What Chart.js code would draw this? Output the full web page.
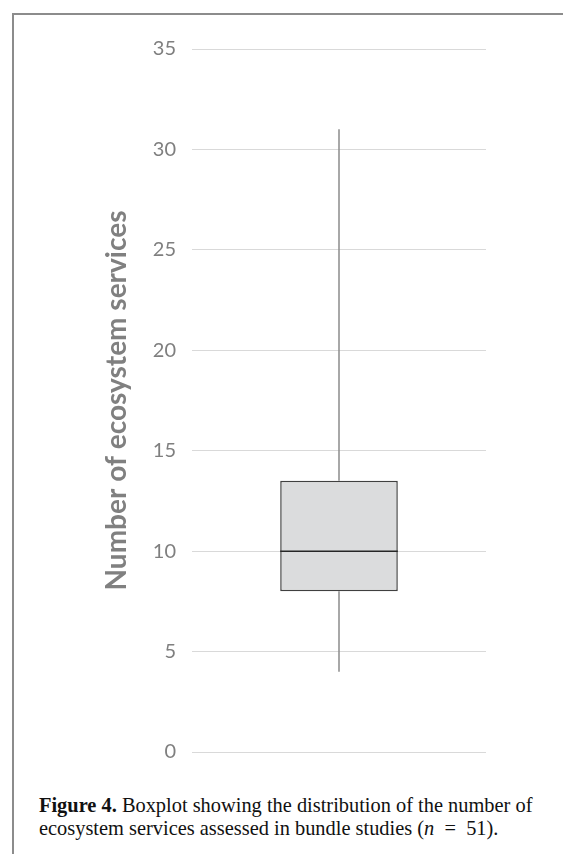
<!DOCTYPE html>
<html>
<head>
<meta charset="utf-8">
<script src="https://cdn.jsdelivr.net/npm/chart.js@4.4.1/dist/chart.umd.min.js"></script>
<style>
  html, body { margin: 0; padding: 0; background: #fff; }
  body { width: 563px; height: 854px; position: relative; overflow: hidden; }
  #frame {
    position: absolute; left: 12px; top: 13px; right: 0; bottom: 0;
    border-left: 2px solid #8c8c8c; border-top: 2px solid #8c8c8c;
  }
  #wrap { position: absolute; left: 0; top: 0; width: 563px; height: 780px; }
  #caption {
    position: absolute; left: 39px; top: 794px;
    font-family: "Liberation Serif", "DejaVu Serif", serif;
    font-size: 20.4px; line-height: 23px; color: #111; white-space: nowrap;
  }
  #caption i { font-style: italic; }
</style>
</head>
<body>
<div id="frame"></div>
<div id="wrap"><canvas id="chart"></canvas></div>
<div id="caption"><b>Figure 4.</b> Boxplot showing the distribution of the number of<br>ecosystem services assessed in bundle studies (<i>n</i>&nbsp;&nbsp;=&nbsp;&nbsp;51).</div>
<script>
// box plot values
const categories = ['Bundle studies'];
const minValues = [4];
const q1Values = [8];
const medianValues = [10];
const q3Values = [13.5];
const maxValues = [31];
const tickLabels = [0, 5, 10, 15, 20, 25, 30, 35];
const axisTitle = 'Number of ecosystem services';

// whiskers + median line drawn around the floating bar
const boxExtras = {
  id: 'boxExtras',
  beforeDatasetsDraw(chart) {
    const ctx = chart.ctx;
    const y = chart.scales.y;
    const meta = chart.getDatasetMeta(0);
    ctx.save();
    ctx.strokeStyle = '#8c8c8c';
    ctx.lineWidth = 1.5;
    meta.data.forEach((bar, i) => {
      ctx.beginPath();
      ctx.moveTo(bar.x, y.getPixelForValue(q3Values[i]));
      ctx.lineTo(bar.x, y.getPixelForValue(maxValues[i]));
      ctx.moveTo(bar.x, y.getPixelForValue(q1Values[i]));
      ctx.lineTo(bar.x, y.getPixelForValue(minValues[i]));
      ctx.stroke();
    });
    ctx.restore();
  },
  afterDatasetsDraw(chart) {
    const ctx = chart.ctx;
    const y = chart.scales.y;
    const meta = chart.getDatasetMeta(0);
    ctx.save();
    ctx.strokeStyle = '#262626';
    ctx.lineWidth = 1.5;
    meta.data.forEach((bar, i) => {
      const my = y.getPixelForValue(medianValues[i]);
      ctx.beginPath();
      ctx.moveTo(bar.x - bar.width / 2, my);
      ctx.lineTo(bar.x + bar.width / 2, my);
      ctx.stroke();
    });
    ctx.restore();
  }
};

const data = {
  labels: categories,
  datasets: [{
    data: categories.map((c, i) => [q1Values[i], q3Values[i]]),
    backgroundColor: '#dbdcdd',
    borderColor: '#404040',
    borderWidth: 1.5,
    borderSkipped: false,
    barPercentage: 0.4,
    categoryPercentage: 1
  }]
};

const config = {
  type: 'bar',
  data,
  options: {
    responsive: true,
    maintainAspectRatio: false,
    animation: false,
    layout: { padding: { top: 49, bottom: 26, left: 96, right: 77 } },
    plugins: { legend: { display: false }, tooltip: { enabled: false } },
    scales: {
      x: { display: false },
      y: {
        min: 0,
        max: 35,
        afterBuildTicks: (scale) => {
          scale.ticks = tickLabels.map(v => ({ value: v }));
        },
        afterFit: (scale) => { scale.width = 96; },
        border: { display: false },
        grid: { color: '#d9d9d9', lineWidth: 1, drawTicks: false },
        ticks: {
          padding: 16,
          color: '#7f7f7f',
          font: { family: 'Lato', size: 20 }
        },
        title: {
          display: true,
          text: axisTitle,
          color: '#808080',
          font: { family: 'Lato', size: 28, weight: 'bold' },
          padding: { top: 4, bottom: 4 }
        }
      }
    }
  },
  plugins: [boxExtras]
};

new Chart(document.getElementById('chart'), config);
</script>
</body>
</html>
